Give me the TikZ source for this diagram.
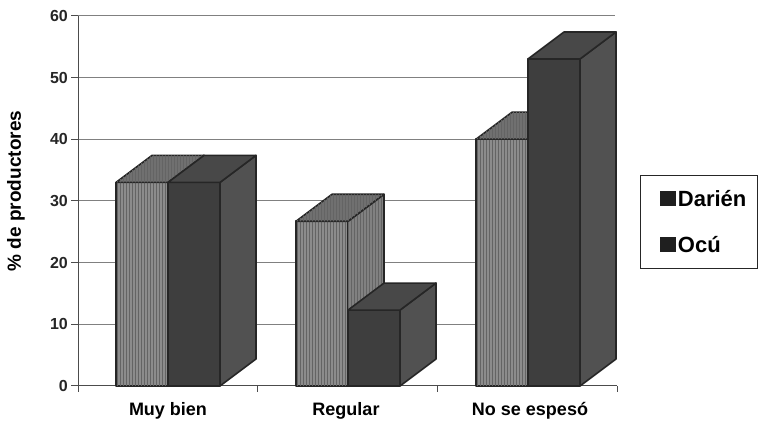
\documentclass[tikz,border=0pt]{standalone}
\usepackage{fontspec}
\setmainfont{Liberation Sans}
\usetikzlibrary{
    positioning,
    patterns
}
\definecolor{darienfill}{RGB}{140,140,140}
\definecolor{darienline}{RGB}{100,100,100}
\definecolor{ocufill}{RGB}{62,62,62}
\tikzset {
    grid line/.style = {draw = black!50, line width = 0.8pt},
    axis line/.style = {draw = black!70, line width = 1pt},
    bar edge/.style = {draw = black!85, line width = 1.6pt, line join = round},
    front face/.style = {},
    side face/.style = {},
    top face/.style = {},
    %
    darien/.style = {
        front face/.style = {fill = darienfill,
            postaction = {pattern = vertical lines, pattern color = darienline}},
        side face/.style = {fill = darienfill!92!black,
            postaction = {pattern = vertical lines, pattern color = darienline}},
        top face/.style = {fill = darienfill!80!black,
            postaction = {pattern = vertical lines, pattern color = darienline}}
    },
    ocu/.style = {
        front face/.style = {fill = ocufill},
        side face/.style = {fill = ocufill!90!white},
        top face/.style = {fill = ocufill!95!white}
    },
    bar3d/.pic = {
        \path [front face, bar edge] (0, 0) rectangle (52, {#1});
        \path [side face, bar edge] (52, 0) -- ++(36, 27) -- ++(0, {#1}) -- (52, {#1}) -- cycle;
        \path [top face, bar edge] (0, {#1}) -- ++(36, 27) -- ++(52, 0) -- (52, {#1}) -- cycle;
    },
    ticklabel/.style = {font = \fontsize{16}{18}\selectfont\bfseries, text = black!85, inner sep = 1pt},
    catlabel/.style = {font = \fontsize{18}{20}\selectfont\bfseries, inner sep = 0pt},
    legend key/.style = {fill = black!88, minimum width = 16pt, minimum height = 15pt, inner sep = 0pt},
    legend text/.style = {font = \fontsize{22}{24}\selectfont\bfseries, inner sep = 0pt}
}

\begin{document}
\begin{tikzpicture}[x = 1pt, y = 1pt]
    \useasboundingbox (0, 0) rectangle (760, 422);
    % grid and value axis
    \foreach \v in {10, 20, ..., 60} {
        \draw [grid line] (78, {36 + 6.17*\v}) -- (615, {36 + 6.17*\v});
    }
    \foreach \v in {0, 10, ..., 60} {
        \draw [axis line] (71, {36 + 6.17*\v}) -- (78, {36 + 6.17*\v});
        \node (tick\v) [ticklabel, anchor = east] at (69, {36 + 6.17*\v}) {\v};
    }
    \coordinate (ytop) at (78, 406);
    \coordinate (ybot) at (78, 30);
    \coordinate (xend) at (617, 36);
    \draw [axis line] (ybot) -- (ytop);
    \draw [axis line] (78, 36) -- (xend);
    \foreach \x in {257, 437, 617} {
        \draw [axis line] (\x, 36) -- (\x, 30);
    }
    % bars
    \foreach \cx/\vd/\vo in {168/33/33, 348/26.7/12.3, 528/40/53} {
        \pgfmathsetmacro\hd{6.17*\vd}
        \pgfmathsetmacro\ho{6.17*\vo}
        \pic [darien] at ({\cx - 52}, 36) {bar3d = \hd};
        \pic [ocu] at (\cx, 36) {bar3d = \ho};
    }
    % labels
    \node (catmuy) [catlabel, anchor = base] at (168, 6) {Muy bien};
    \node (catreg) [catlabel, anchor = base] at (346, 6) {Regular};
    \node (catno) [catlabel, anchor = base] at (530, 6) {No se espesó};
    \node (ylabel) [catlabel, font = \fontsize{19}{20}\selectfont\bfseries, rotate = 90] at (16, 231) {\% de productores};
    % legend
    \node (legend) [draw = black!85, line width = 0.8pt, minimum width = 117pt, minimum height = 93pt,
        inner sep = 0pt, anchor = south west] at (640, 153) {};
    \node (keyd) [legend key] at (667.5, 223.5) {};
    \node (keyo) [legend key] at (667.5, 177) {};
    \node (txtd) [legend text, right = 2pt of keyd.south east, anchor = base west] {Darién};
    \node (txto) [legend text, right = 2pt of keyo.south east, anchor = base west] {Ocú};
\end{tikzpicture}
\end{document}
